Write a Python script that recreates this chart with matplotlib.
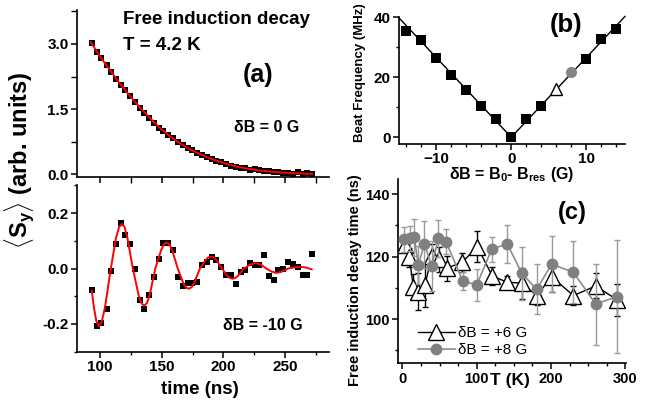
import matplotlib
matplotlib.use('Agg')
import matplotlib.pyplot as plt
from matplotlib.ticker import MultipleLocator

plt.rcParams['font.family'] = ['Liberation Sans', 'DejaVu Sans']
plt.rcParams['font.weight'] = 'bold'
plt.rcParams['mathtext.fontset'] = 'custom'
plt.rcParams['mathtext.rm'] = 'Liberation Sans'
plt.rcParams['mathtext.bf'] = 'Liberation Sans:bold'
plt.rcParams['mathtext.it'] = 'Liberation Sans:italic'

# ---------------- data: panel (a) ----------------
time_ns = [93.3, 97.3, 100.8, 105.4, 108.9, 112.7, 116.8, 120.5, 124.3, 128.4,
           132.4, 135.9, 140.0, 143.8, 147.8, 151.4, 155.4, 159.5, 163.5, 167.0,
           171.1, 174.8, 178.6, 182.4, 186.5, 190.6, 194.3, 198.1, 202.2, 206.0,
           210.0, 214.1, 217.6, 221.7, 225.7, 229.2, 233.0, 237.0, 241.1, 244.6,
           248.7, 252.7, 256.8, 260.3, 264.4, 268.2, 272.2]
sy_0G = [3.02, 2.82, 2.68, 2.52, 2.36, 2.20, 2.05, 1.93, 1.80, 1.66,
         1.53, 1.42, 1.30, 1.19, 1.07, 0.99, 0.91, 0.84, 0.74, 0.67,
         0.61, 0.55, 0.50, 0.45, 0.41, 0.35, 0.31, 0.28, 0.24, 0.20,
         0.18, 0.15, 0.14, 0.11, 0.12, 0.09, 0.07, 0.08, 0.05, 0.06,
         0.04, 0.03, 0.02, 0.05, 0.00, 0.04, 0.01]
sy_m10G = [-0.079, -0.208, -0.195, -0.146, -0.010, 0.087, 0.164, 0.119, 0.087, -0.001,
           -0.113, -0.146, -0.097, -0.029, 0.035, 0.091, 0.091, 0.067, -0.031, -0.062,
           -0.053, -0.053, -0.050, 0.011, 0.025, 0.043, 0.030, 0.005, -0.025, -0.025,
           -0.055, -0.013, -0.005, 0.021, 0.011, 0.011, 0.047, -0.028, -0.041, -0.007,
           -0.001, 0.025, 0.017, 0.007, -0.022, -0.022, 0.053]

fit0_t = [92.5, 100, 108, 116, 124, 132, 140, 148, 156, 164, 172, 180, 188, 196,
          204, 212, 220, 228, 236, 244, 252, 260, 268, 272]
fit0_v = [3.04, 2.71, 2.40, 2.09, 1.81, 1.55, 1.31, 1.08, 0.89, 0.73, 0.59, 0.48,
          0.38, 0.30, 0.23, 0.17, 0.13, 0.095, 0.07, 0.05, 0.035, 0.025, 0.015, 0.012]

fit10_t = [93.3, 95.0, 97.0, 99.2, 101.5, 104.0, 108.4, 112.9, 115.5, 117.6, 119.8,
           122.2, 126.6, 131.2, 133.5, 135.7, 138.0, 140.3, 144.8, 149.5, 151.8,
           154.0, 156.2, 158.5, 163.0, 167.4, 169.7, 171.9, 174.1, 176.4, 181.0,
           185.5, 187.8, 190.0, 192.2, 194.5, 198.8, 203.2, 205.4, 207.6, 209.8,
           212.0, 216.8, 221.5, 226.0, 230.5, 234.7, 239.0, 243.3, 247.6, 252.6,
           257.5, 262.0, 266.5, 271.7]
fit10_v = [-0.080, -0.140, -0.190, -0.208, -0.190, -0.140, -0.010, 0.110, 0.150, 0.161,
           0.150, 0.110, 0.000, -0.095, -0.125, -0.134, -0.125, -0.095, 0.000, 0.066,
           0.087, 0.094, 0.087, 0.066, 0.000, -0.052, -0.068, -0.073, -0.068, -0.052,
           0.000, 0.030, 0.040, 0.043, 0.040, 0.030, 0.000, -0.026, -0.034, -0.037,
           -0.034, -0.026, 0.000, 0.014, 0.020, 0.014, 0.000, -0.011, -0.016, -0.011,
           0.000, 0.004, 0.006, 0.004, -0.003]

# ---------------- data: panel (b) ----------------
dB_sq = [-14, -12, -10, -8, -6, -4, -2, 0, 2, 4, 10, 12, 14]
beat_sq = [35.3, 32.3, 26.4, 20.8, 15.8, 10.5, 6.0, 0.0, 6.0, 10.5, 26.1, 32.8, 36.1]
dB_tri = [6]
beat_tri = [16.2]
dB_circ = [8]
beat_circ = [21.6]
fitb_x = [-15.0, 0.0, 15.2]
fitb_y = [39.8, 0.0, 40.3]

# ---------------- data: panel (c) ----------------
T6 = [3.6, 9.4, 14.8, 21.5, 30.5, 39.5, 49.7, 59.7, 80.6, 100.8, 121, 141,
      160.5, 180.6, 200.8, 229.9, 260, 289]
tau6 = [123.8, 119.8, 110.4, 108.8, 110.9, 120.2, 119.2, 116.3, 118.2, 123.2, 113.8,
        111.8, 111.5, 107.5, 113.6, 107.5, 110.6, 106.1]
err6 = [2, 3, 4, 6, 7, 4, 4, 4, 3, 5, 3, 2, 5, 3, 5, 3, 4, 5]

T8 = [2.7, 10.3, 16.1, 21.5, 29.6, 39.5, 48.4, 58.7, 81.2, 100, 120.2, 141.1,
      160.5, 180.6, 200.8, 229.9, 260, 289]
tau8 = [125.6, 125.9, 126.2, 117.3, 124.0, 117.0, 125.9, 124.8, 112.2, 110.9, 122.4,
        124.1, 114.7, 109.5, 117.6, 115.0, 104.8, 107.2]
err8 = [4, 4, 6, 6, 7.5, 8, 6, 4, 3, 5, 4, 6, 8.5, 8, 9, 10, 13, 18]

# ---------------- figure ----------------
W, H = 647, 401
fig = plt.figure(figsize=(W / 100, H / 100), dpi=100)


def ax_px(l, t, r, b):
    return fig.add_axes([l / W, 1 - b / H, (r - l) / W, (b - t) / H])


def style(ax, size=11):
    for s in ('top', 'right'):
        ax.spines[s].set_visible(False)
    for s in ('left', 'bottom'):
        ax.spines[s].set_linewidth(1.2)
    ax.tick_params(which='major', direction='out', length=4, width=1.1, labelsize=size, pad=2)
    ax.tick_params(which='minor', direction='out', length=2.5, width=1.0)


XL = (81.3, 285.7)

# (a) top
ax1 = ax_px(77, 10, 329, 177)
style(ax1)
ax1.plot(time_ns, sy_0G, 's', color='black', ms=4.3, mew=0)
ax1.plot(fit0_t, fit0_v, '-', color='red', lw=1.4)
ax1.set_xlim(*XL)
ax1.set_ylim(-0.06, 3.78)
ax1.yaxis.set_major_locator(MultipleLocator(1.5))
ax1.yaxis.set_minor_locator(MultipleLocator(0.75))
ax1.xaxis.set_major_locator(MultipleLocator(50))
ax1.xaxis.set_minor_locator(MultipleLocator(25))
ax1.tick_params(which='minor', length=4)
ax1.set_xticklabels([])
ax1.yaxis.set_major_formatter(matplotlib.ticker.FormatStrFormatter('%.1f'))

# (a) bottom
ax2 = ax_px(77, 185, 329, 352)
style(ax2)
ax2.plot(time_ns, sy_m10G, 's', color='black', ms=4.3, mew=0)
ax2.plot(fit10_t, fit10_v, '-', color='red', lw=1.4)
ax2.set_xlim(*XL)
ax2.set_ylim(-0.301, 0.301)
ax2.yaxis.set_major_locator(MultipleLocator(0.2))
ax2.yaxis.set_minor_locator(MultipleLocator(0.1))
ax2.xaxis.set_major_locator(MultipleLocator(50))
ax2.xaxis.set_minor_locator(MultipleLocator(25))
ax2.yaxis.set_major_formatter(matplotlib.ticker.FormatStrFormatter('%.1f'))

fig.text(123 / W, 1 - 20 / H, 'Free induction decay', fontsize=13.5, ha='left', va='center')
fig.text(123 / W, 1 - 45 / H, 'T = 4.2 K', fontsize=13.5, ha='left', va='center')
fig.text(258 / W, 1 - 75 / H, '(a)', fontsize=18, ha='center', va='center')
fig.text(267 / W, 1 - 128 / H, 'δB = 0 G', fontsize=11.5, ha='center', va='center')
fig.text(263 / W, 1 - 325 / H, 'δB = -10 G', fontsize=11.5, ha='center', va='center')
fig.text(200 / W, 1 - 390 / H, 'time (ns)', fontsize=13.5, ha='center', va='center')
fig.text(20 / W, 1 - 160 / H, r'$\langle\mathbf{S_y}\rangle$ (arb. units)', fontsize=17,
         rotation=90, ha='center', va='center')

# (b)
ax3 = ax_px(399, 17, 625, 144)
style(ax3, 11)
ax3.plot(fitb_x, fitb_y, '-', color='black', lw=1.0, clip_on=False)
ax3.plot(dB_sq, beat_sq, 's', color='black', ms=6.5, mew=0)
ax3.plot(dB_tri, beat_tri, '^', mfc='white', mec='black', ms=8.5, mew=1.0)
ax3.plot(dB_circ, beat_circ, 'o', color='#858585', ms=8, mew=0)
ax3.set_xlim(-15, 15.2)
ax3.set_ylim(-2.24, 40.1)
ax3.xaxis.set_major_locator(MultipleLocator(10))
ax3.xaxis.set_minor_locator(MultipleLocator(2))
ax3.yaxis.set_major_locator(MultipleLocator(20))
ax3.yaxis.set_minor_locator(MultipleLocator(10))
fig.text(566 / W, 1 - 25 / H, '(b)', fontsize=18.5, ha='center', va='center')
fig.text(360 / W, 1 - 73 / H, 'Beat Frequency (MHz)', fontsize=9.5, rotation=90,
         ha='center', va='center')
fig.text(512 / W, 1 - 175 / H, r'δB = B$_\mathbf{0}$- B$_\mathbf{res}$ (G)', fontsize=11.5,
         ha='center', va='center')

# (c)
ax4 = ax_px(398.3, 179.3, 626, 363.3)
style(ax4, 10.5)
ax4.errorbar(T6, tau6, yerr=err6, fmt='none', ecolor='black', elinewidth=1.0,
             capsize=2, capthick=1.0, zorder=2)
l6, = ax4.plot(T6, tau6, '-', marker='^', color='black', mfc='white', mec='black',
               ms=11, mew=1.0, lw=1.0, zorder=3)
ax4.errorbar(T8, tau8, yerr=err8, fmt='none', ecolor='#9a9a9a', elinewidth=1.0,
             capsize=2, capthick=1.0, zorder=4)
l8, = ax4.plot(T8, tau8, '-', marker='o', color='#8c8c8c', mfc='#808080', mec='#808080',
               ms=8.5, mew=0, lw=1.2, zorder=5)
ax4.set_xlim(-5.4, 300.7)
ax4.set_ylim(85.8, 144.8)
ax4.xaxis.set_major_locator(MultipleLocator(100))
ax4.xaxis.set_minor_locator(MultipleLocator(25))
ax4.yaxis.set_major_locator(MultipleLocator(20))
ax4.yaxis.set_minor_locator(MultipleLocator(10))
ax4.legend([l6, l8], ['δB = +6 G', 'δB = +8 G'], loc='lower left',
           bbox_to_anchor=(0.06, 0.0), frameon=False, borderaxespad=0,
           prop={'weight': 'normal', 'size': 11}, handlelength=2.4,
           handletextpad=0.2, labelspacing=0.2)
fig.text(572 / W, 1 - 213 / H, '(c)', fontsize=17, ha='center', va='center')
fig.text(510 / W, 1 - 380 / H, 'T (K)', fontsize=12.5, ha='center', va='center')
fig.text(355 / W, 1 - 280 / H, 'Free induction decay time (ns)', fontsize=10.5,
         rotation=90, ha='center', va='center')

fig.savefig('out.png', dpi=100)
